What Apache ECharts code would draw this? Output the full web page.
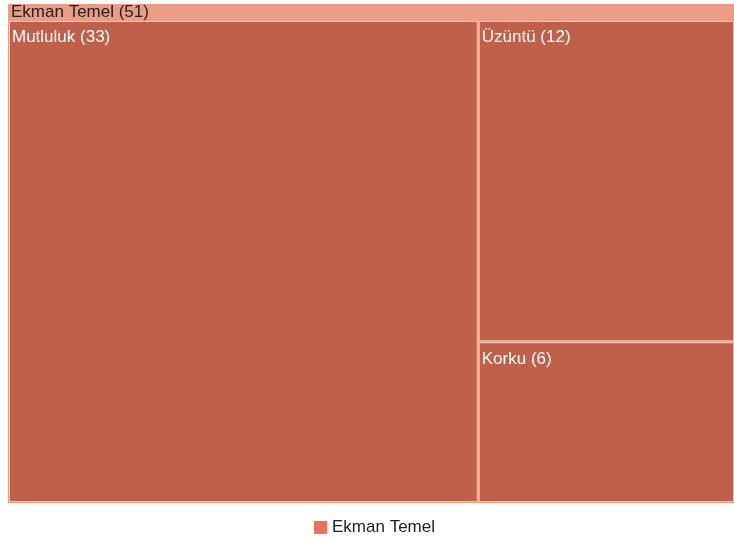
<!DOCTYPE html>
<html><head><meta charset="utf-8">
<script src="https://cdn.jsdelivr.net/npm/echarts@6/dist/echarts.min.js"></script>
<style>html,body{margin:0;padding:0;background:#fff}#c{width:734px;height:540px}</style>
</head><body><div id="c"></div>
<script>
const seriesName = 'Ekman Temel';
const rootName = 'Ekman Temel';
const categories = ['Mutluluk', 'Üzüntü', 'Korku'];
const values = [33, 12, 6];

const chart = echarts.init(document.getElementById('c'));
const children = categories.map((n, i) => ({name: n, value: values[i]}));
const total = values.reduce((a, b) => a + b, 0);
chart.setOption({
  color: ['#e8735a'],
  animation: false,
  legend: {
    top: 514,
    left: 309,
    data: [{name: seriesName, icon: 'rect'}],
    itemWidth: 13, itemHeight: 13, itemGap: 7,
    textStyle: {fontFamily: 'Liberation Sans', fontSize: 17, color: '#222'}
  },
  series: [{
    type: 'treemap',
    name: seriesName,
    left: 8, top: 4, right: -1, bottom: 37,
    roam: false, nodeClick: false,
    breadcrumb: {show: false},
    label: {show: true, position: 'insideTopLeft', formatter: '{b} ({c})',
            color: '#fff', fontSize: 17, fontFamily: 'Liberation Sans', offset: [-3, 2]},
    upperLabel: {show: false},
    levels: [
      {itemStyle: {borderWidth: 0, gapWidth: 0}, upperLabel: {show: false}},
      {itemStyle: {color: '#e99b86', borderColor: '#ea9c87', borderWidth: 1, gapWidth: 1},
       upperLabel: {show: true, height: 17, color: '#222', fontSize: 17, fontFamily: 'Liberation Sans',
                    formatter: '{b} ({c})', padding: [0, 0, 0, 2]}},
      {itemStyle: {color: '#c0604a', borderColor: '#f5cbbd', borderWidth: 1, gapWidth: 0}}
    ],
    data: [{name: rootName, value: total, children: children}]
  }]
});
</script></body></html>
